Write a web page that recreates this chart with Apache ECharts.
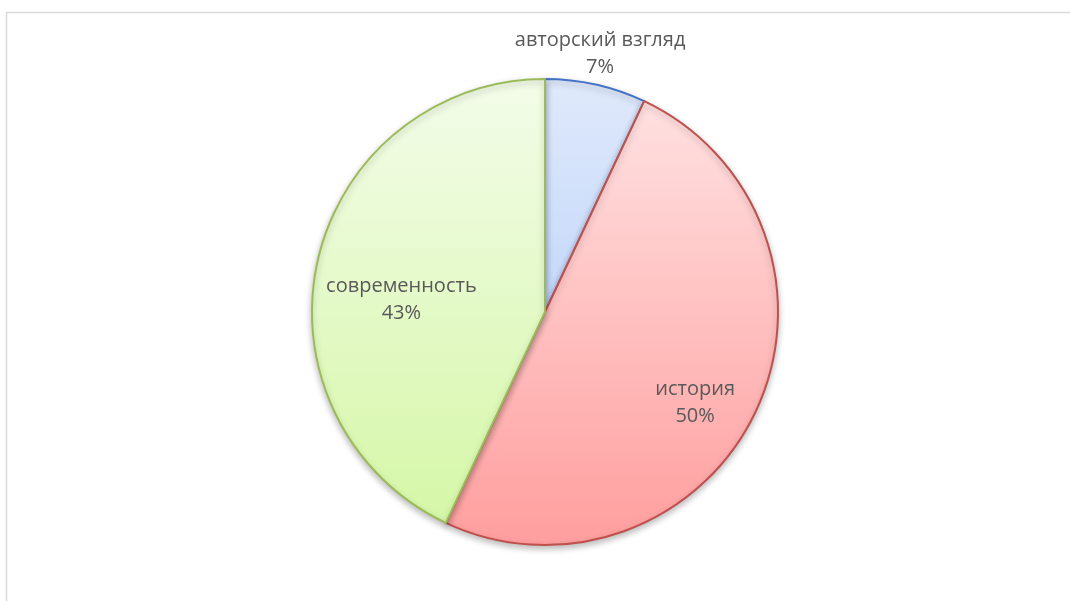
<!DOCTYPE html>
<html>
<head>
<meta charset="utf-8">
<script src="https://cdn.jsdelivr.net/npm/echarts@6/dist/echarts.min.js"></script>
<style>
html,body{margin:0;padding:0;background:#fff;}
#chart{width:1070px;height:601px;}
</style>
</head>
<body>
<div id="chart"></div>
<script>
var categories = ['авторский взгляд', 'история', 'современность'];
var values = [7, 50, 43];

var fills = [
  ['#dfe9fb', '#a9c6fa'],
  ['#ffe4e4', '#ff9e9e'],
  ['#f3fce9', '#d4f7a4']
];
var strokes = ['#4472c4', '#c0504d', '#9bbb59'];
var labelShift = [[29, -142], [42, 40], [-27, 14]];

var chart = echarts.init(document.getElementById('chart'));
var data = categories.map(function (c, i) {
  return {
    name: c,
    value: values[i],
    itemStyle: {
      color: new echarts.graphic.LinearGradient(0, 79, 0, 545, [
        {offset: 0, color: fills[i][0]},
        {offset: 1, color: fills[i][1]}
      ], true),
      borderColor: strokes[i]
    }
  };
});
chart.setOption({
  animation: false,
  backgroundColor: '#fff',
  graphic: [{
    type: 'rect',
    shape: {x: 6.5, y: 12.5, width: 1080, height: 620},
    style: {fill: 'none', stroke: '#d9d9d9', lineWidth: 1.5},
    silent: true
  }],
  series: [{
    type: 'pie',
    center: [545, 312],
    radius: [0, 233],
    startAngle: 90,
    clockwise: true,
    data: data,
    itemStyle: {
      borderWidth: 2,
      shadowBlur: 6,
      shadowOffsetY: 3,
      shadowColor: 'rgba(0,0,0,0.25)'
    },
    label: {
      show: true,
      position: 'inside',
      formatter: function (p) { return p.name + '\n' + Math.round(p.percent) + '%'; },
      color: '#595959',
      fontFamily: 'Open Sans',
      fontSize: 20,
      lineHeight: 27,
      align: 'center'
    },
    labelLine: {show: false},
    labelLayout: function (p) {
      var s = labelShift[p.dataIndex];
      return {dx: s[0], dy: s[1]};
    },
    emphasis: {disabled: true}
  }]
});
</script>
</body>
</html>
